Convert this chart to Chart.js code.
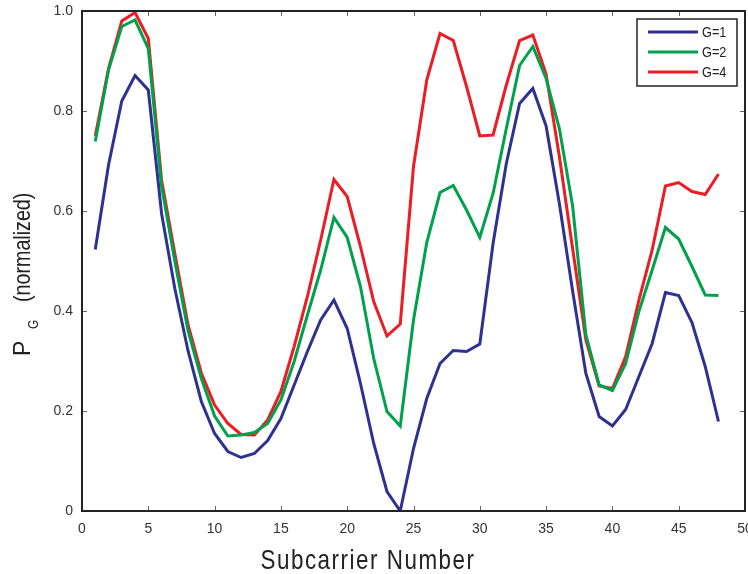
<!DOCTYPE html>
<html>
<head>
<meta charset="utf-8">
<script src="https://cdn.jsdelivr.net/npm/chart.js@4.4.0/dist/chart.umd.min.js"></script>
<style>
  html, body { margin: 0; padding: 0; background: #fff; }
  #caixa { width: 748px; height: 574px; }
</style>
</head>
<body>
<div id="caixa"><canvas id="graficoPG"></canvas></div>
<script>
// dados: P_G normalizado por subportadora
var subportadoras = [];
for (var i = 1; i <= 48; i++) subportadoras.push(i);

var serieG1 = [0.523, 0.692, 0.82, 0.871, 0.842, 0.595, 0.445, 0.32, 0.219, 0.155,
  0.119, 0.107, 0.115, 0.141, 0.185, 0.252, 0.319, 0.382, 0.422, 0.365,
  0.255, 0.135, 0.039, 0.0, 0.125, 0.225, 0.295, 0.321, 0.319, 0.334,
  0.535, 0.695, 0.815, 0.845, 0.77, 0.615, 0.44, 0.275, 0.189, 0.17,
  0.203, 0.269, 0.335, 0.437, 0.431, 0.377, 0.289, 0.179];
var serieG2 = [0.739, 0.882, 0.969, 0.982, 0.925, 0.65, 0.5, 0.36, 0.265, 0.19,
  0.15, 0.152, 0.157, 0.175, 0.222, 0.299, 0.392, 0.482, 0.587, 0.547,
  0.449, 0.305, 0.199, 0.17, 0.382, 0.537, 0.637, 0.651, 0.602, 0.547,
  0.635, 0.765, 0.891, 0.929, 0.865, 0.765, 0.61, 0.352, 0.252, 0.241,
  0.295, 0.399, 0.482, 0.567, 0.544, 0.489, 0.432, 0.431];
var serieG4 = [0.75, 0.885, 0.98, 0.997, 0.945, 0.662, 0.515, 0.372, 0.276, 0.212,
  0.175, 0.153, 0.152, 0.182, 0.239, 0.329, 0.429, 0.542, 0.663, 0.629,
  0.529, 0.419, 0.35, 0.374, 0.689, 0.862, 0.955, 0.941, 0.849, 0.75,
  0.752, 0.852, 0.941, 0.952, 0.874, 0.709, 0.525, 0.342, 0.25, 0.245,
  0.309, 0.422, 0.522, 0.65, 0.657, 0.639, 0.633, 0.674];
var rotulos = ['G=1', 'G=2', 'G=4'];
var cores = ['#2e3192', '#00a14b', '#ed1c24'];
var ticksX = [0, 5, 10, 15, 20, 25, 30, 35, 40, 45, 50];
var ticksY = [0, 0.2, 0.4, 0.6, 0.8, 1.0];

var fonte = '"Liberation Sans", Arial, sans-serif';

function pares(vet) {
  return vet.map(function (v, k) { return { x: subportadoras[k], y: v }; });
}

// texto estreito: escala horizontal no sentido do texto
function textoEstreito(ctx, txt, x, y, fator) {
  ctx.save();
  ctx.translate(x, y);
  ctx.scale(fator, 1);
  ctx.fillText(txt, 0, 0);
  ctx.restore();
}

// moldura com ticks para dentro nos 4 lados
var moldura = {
  id: 'moldura',
  afterDatasetsDraw: function (chart) {
    var ctx = chart.ctx, a = chart.chartArea;
    var sx = chart.scales.x, sy = chart.scales.y;
    ctx.save();
    ctx.strokeStyle = '#666';
    ctx.lineWidth = 1;
    ticksX.forEach(function (t) {
      if (t === 0 || t === 50) return;
      var px = Math.round(sx.getPixelForValue(t)) + 0.5;
      ctx.beginPath();
      ctx.moveTo(px, a.bottom); ctx.lineTo(px, a.bottom - 5);
      ctx.moveTo(px, a.top); ctx.lineTo(px, a.top + 5);
      ctx.stroke();
    });
    ticksY.forEach(function (t) {
      if (t === 0 || t === 1) return;
      var py = Math.round(sy.getPixelForValue(t)) + 0.5;
      ctx.beginPath();
      ctx.moveTo(a.left, py); ctx.lineTo(a.left + 5, py);
      ctx.moveTo(a.right, py); ctx.lineTo(a.right - 5, py);
      ctx.stroke();
    });
    ctx.strokeStyle = '#222';
    ctx.lineWidth = 2;
    ctx.strokeRect(a.left, a.top, a.right - a.left, a.bottom - a.top);
    ctx.restore();
  }
};

// legenda dentro da area do grafico, com caixa
var legendaCaixa = {
  id: 'legendaCaixa',
  afterDraw: function (chart) {
    var ctx = chart.ctx, a = chart.chartArea;
    var x0 = a.right - 108, y0 = a.top + 8, w = 100, h = 67;
    ctx.save();
    ctx.fillStyle = '#fff';
    ctx.fillRect(x0, y0, w, h);
    ctx.strokeStyle = '#222';
    ctx.lineWidth = 1.5;
    ctx.strokeRect(x0, y0, w, h);
    ctx.font = '15px ' + fonte;
    ctx.textBaseline = 'middle';
    chart.data.datasets.forEach(function (ds, k) {
      var yy = y0 + 13 + k * 20;
      ctx.strokeStyle = ds.borderColor;
      ctx.lineWidth = 3;
      ctx.beginPath();
      ctx.moveTo(x0 + 11, yy); ctx.lineTo(x0 + 61, yy);
      ctx.stroke();
      ctx.fillStyle = '#222';
      textoEstreito(ctx, ds.label, x0 + 65, yy + 1, 0.85);
    });
    ctx.restore();
  }
};

// titulos dos eixos (P com indice G)
var titulos = {
  id: 'titulos',
  afterDraw: function (chart) {
    var ctx = chart.ctx;
    ctx.save();
    ctx.fillStyle = '#222';
    ctx.textBaseline = 'alphabetic';
    ctx.textAlign = 'center';
    ctx.font = '28px ' + fonte;
    ctx.letterSpacing = '1.9px';
    textoEstreito(ctx, 'Subcarrier Number', 368, 569, 0.8);
    ctx.letterSpacing = '0px';
    ctx.translate(30, 356);
    ctx.rotate(-Math.PI / 2);
    ctx.textAlign = 'left';
    ctx.font = '24px ' + fonte;
    textoEstreito(ctx, 'P', 0, 0, 0.95);
    ctx.font = '14px ' + fonte;
    textoEstreito(ctx, 'G', 27, 8, 0.85);
    ctx.font = '24px ' + fonte;
    textoEstreito(ctx, '(normalized)', 54, 0, 0.82);
    ctx.restore();
  }
};

var ctx = document.getElementById('graficoPG').getContext('2d');
var chart = new Chart(ctx, {
  type: 'line',
  data: {
    datasets: [
      { label: rotulos[0], data: pares(serieG1), borderColor: cores[0] },
      { label: rotulos[1], data: pares(serieG2), borderColor: cores[1] },
      { label: rotulos[2], data: pares(serieG4), borderColor: cores[2] }
    ]
  },
  options: {
    responsive: true,
    maintainAspectRatio: false,
    animation: false,
    layout: { padding: { top: 11, right: 3, left: 0, bottom: 0 } },
    elements: {
      point: { radius: 0 },
      line: { borderWidth: 3, tension: 0, fill: false }
    },
    scales: {
      x: {
        type: 'linear',
        min: 0, max: 50,
        afterFit: function (s) { s.height = 63; s.paddingLeft = 0; s.paddingRight = 0; },
        afterBuildTicks: function (s) { s.ticks = ticksX.map(function (v) { return { value: v }; }); },
        grid: { display: true, drawOnChartArea: false, drawTicks: false },
        border: { display: false },
        ticks: { padding: 10, color: '#333', font: { family: fonte, size: 14 }, maxRotation: 0 }
      },
      y: {
        min: 0, max: 1,
        afterFit: function (s) { s.width = 82; s.paddingTop = 0; s.paddingBottom = 0; },
        afterBuildTicks: function (s) { s.ticks = ticksY.map(function (v) { return { value: v }; }); },
        grid: { display: true, drawOnChartArea: false, drawTicks: false },
        border: { display: false },
        ticks: {
          padding: 9, color: '#333', font: { family: fonte, size: 14 },
          callback: function (v) { return v === 0 ? '0' : v.toFixed(1); }
        }
      }
    },
    plugins: {
      legend: { display: false },
      tooltip: { enabled: false }
    }
  },
  plugins: [moldura, legendaCaixa, titulos]
});
</script>
</body>
</html>
